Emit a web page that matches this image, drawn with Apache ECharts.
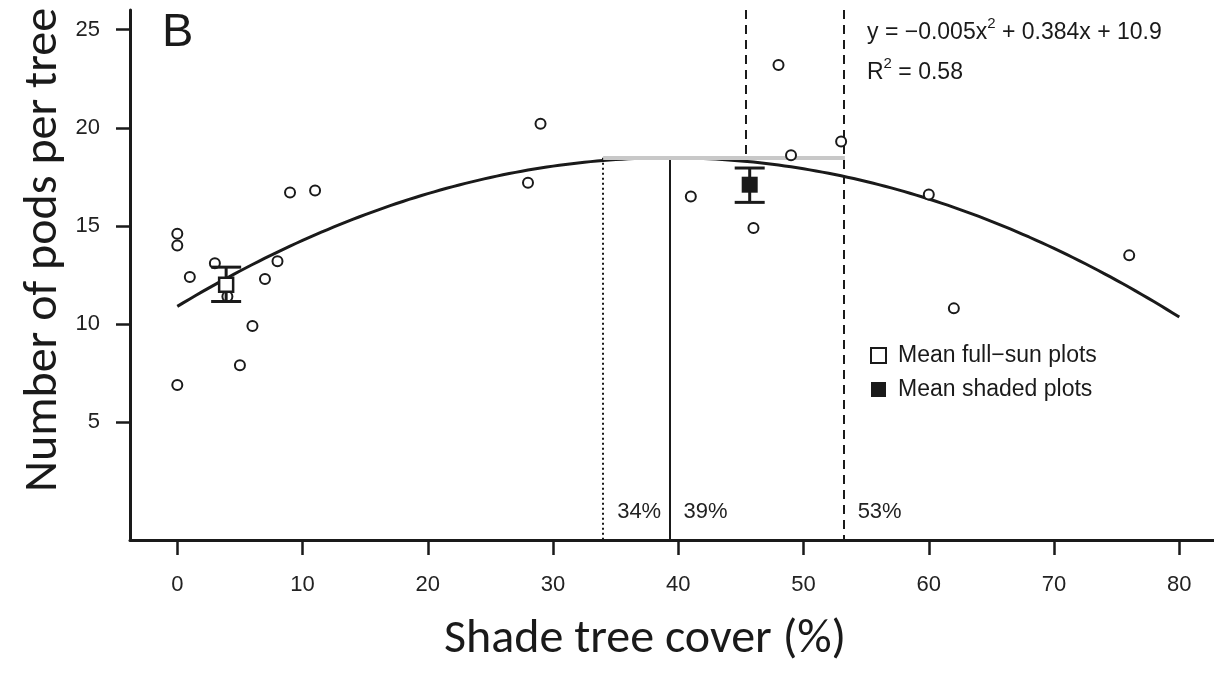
<!DOCTYPE html>
<html>
<head>
<meta charset="utf-8">
<title>Pods per tree vs shade tree cover</title>
<script src="https://cdn.jsdelivr.net/npm/echarts@6/dist/echarts.min.js"></script>
<style>
  html, body { margin: 0; padding: 0; background: #ffffff; }
  #chart { width: 1214px; height: 676px; }
</style>
</head>
<body>
<div id="chart"></div>
<script>
// One entry per plot: shade tree cover (%) and number of pods per tree
const shadeCover  = [0, 0, 0, 1, 3, 4, 5, 6, 7, 8, 9, 11, 28, 29, 41, 46, 48, 49, 53, 60, 62, 76];
const podsPerTree = [14.6, 14.0, 6.9, 12.4, 13.1, 11.4, 7.9, 9.9, 12.3, 13.2, 16.7, 16.8,
                     17.2, 20.2, 16.5, 14.9, 23.2, 18.6, 19.3, 16.6, 10.8, 13.5];

// Group means with their error bars
const meanNames = ['Mean full\u2212sun plots', 'Mean shaded plots'];
const meanCover = [3.9, 45.7];
const meanPods  = [12.0, 17.1];
const meanLow   = [11.15, 16.2];
const meanHigh  = [12.9, 17.95];

// Quadratic fit: pods = a*cover^2 + b*cover + c
const fitA = -0.0049, fitB = 0.3852, fitC = 10.9;
const fitRange = [0, 80];
const equationText = ['y = \u22120.005x', '2', ' + 0.384x + 10.9'];
const r2Text = ['R', '2', ' = 0.58'];

// Shade cover thresholds (%)
const optimumLow  = 34;
const optimum     = 39.3;
const optimumHigh = 53.2;
const shadedMeanCover = 45.4;

// Axis ticks
const xTicks = [0, 10, 20, 30, 40, 50, 60, 70, 80];
const yTicks = [5, 10, 15, 20, 25];

const X_MIN = -3.776, X_MAX = 82.77;
const Y_MIN = -1, Y_MAX = 26;

const INK = '#1a1a1a';
const SANS = '"Liberation Sans", Arial, sans-serif';
const TITLE_FONT = 'Carlito, Calibri, Lato, sans-serif';

const points = shadeCover.map((x, i) => [x, podsPerTree[i]]);

// fitted curve sampled along the fit range
const fitCurve = [];
for (let x = fitRange[0]; x <= fitRange[1] + 1e-9; x += 0.5) {
  fitCurve.push([x, fitA * x * x + fitB * x + fitC]);
}
const fitPeak = fitC - (fitB * fitB) / (4 * fitA);

const dashed = { type: [9, 6], width: 2, color: INK };
const dotted = { type: [2, 3], width: 2, color: INK };
const solid  = { type: 'solid', width: 2, color: INK };

// main text plus raised exponent
const supRich = {
  t: { fontSize: 23, fontFamily: SANS, fill: INK, lineHeight: 33 },
  s: { fontSize: 15, fontFamily: SANS, fill: INK, lineHeight: 15, verticalAlign: 'top' }
};

const chart = echarts.init(document.getElementById('chart'), null, { renderer: 'canvas' });

chart.setOption({
  animation: false,
  backgroundColor: '#ffffff',
  grid: { left: 130, right: 0, top: 10, bottom: 136, outerBoundsMode: 'none' },
  xAxis: {
    type: 'value',
    min: X_MIN,
    max: X_MAX,
    axisLine: { show: true, onZero: false, lineStyle: { color: INK, width: 3 } },
    axisTick: { show: true, length: 15, customValues: xTicks, lineStyle: { color: INK, width: 2.5 } },
    axisLabel: { customValues: xTicks, margin: 34, fontSize: 22, fontFamily: SANS, color: '#222' },
    splitLine: { show: false }
  },
  yAxis: {
    type: 'value',
    min: Y_MIN,
    max: Y_MAX,
    axisLine: { show: true, onZero: false, lineStyle: { color: INK, width: 3 } },
    axisTick: { show: true, length: 14, customValues: yTicks, lineStyle: { color: INK, width: 2.5 } },
    axisLabel: { customValues: yTicks, margin: 30, fontSize: 22, fontFamily: SANS, color: '#222' },
    splitLine: { show: false }
  },
  legend: {
    orient: 'vertical',
    left: 865,
    top: 339,
    itemWidth: 15,
    itemHeight: 15,
    itemGap: 11,
    selectedMode: false,
    textStyle: { fontSize: 23, fontFamily: SANS, color: INK, padding: [0, 0, 0, 7] },
    data: [
      { name: meanNames[0], icon: 'rect', itemStyle: { color: '#ffffff', borderColor: INK, borderWidth: 2, opacity: 1 } },
      { name: meanNames[1], icon: 'rect', itemStyle: { color: INK, borderWidth: 0, opacity: 1 } }
    ]
  },
  graphic: [
    { type: 'text', left: 162, top: 10, silent: true,
      style: { text: 'B', fontSize: 47, fontFamily: SANS, fill: INK } },
    { type: 'text', left: 867, top: 16, silent: true,
      style: {
        text: '{t|' + equationText[0] + '}{s|' + equationText[1] + '}{t|' + equationText[2] + '}',
        rich: supRich
      } },
    { type: 'text', left: 867, top: 56, silent: true,
      style: {
        text: '{t|' + r2Text[0] + '}{s|' + r2Text[1] + '}{t|' + r2Text[2] + '}',
        rich: supRich
      } },
    { type: 'text', x: 645, y: 640, silent: true,
      style: { text: 'Shade tree cover (%)', fontSize: 48, fontFamily: TITLE_FONT, fill: INK,
               align: 'center', verticalAlign: 'middle' } },
    { type: 'text', x: 44, y: 250, rotation: Math.PI / 2, silent: true,
      style: { text: 'Number of pods per tree', fontSize: 48, fontFamily: TITLE_FONT, fill: INK,
               align: 'center', verticalAlign: 'middle' } }
  ],
  series: [
    {
      // threshold lines and the plateau band
      name: 'thresholds',
      type: 'line',
      data: [],
      z: 1,
      silent: true,
      markLine: {
        silent: true,
        symbol: 'none',
        label: { show: false },
        animation: false,
        data: [
          [{ coord: [optimumLow, fitPeak], lineStyle: dotted }, { coord: [optimumLow, Y_MIN] }],
          [{ coord: [optimum, fitPeak], lineStyle: solid }, { coord: [optimum, Y_MIN] }],
          [{ coord: [optimumHigh, Y_MAX], lineStyle: dashed }, { coord: [optimumHigh, Y_MIN] }],
          [{ coord: [shadedMeanCover, Y_MAX], lineStyle: dashed }, { coord: [shadedMeanCover, fitPeak] }],
          [{ coord: [optimumLow, fitPeak], lineStyle: { type: 'solid', width: 4, color: '#c8c8c8' } },
           { coord: [optimumHigh + 0.1, fitPeak] }]
        ]
      }
    },
    {
      name: 'fit',
      type: 'line',
      data: fitCurve,
      showSymbol: false,
      smooth: false,
      z: 3,
      silent: true,
      lineStyle: { color: INK, width: 3 }
    },
    {
      // percentage labels beside the threshold lines
      name: 'thresholdLabels',
      type: 'scatter',
      data: [optimumLow, optimum, optimumHigh].map(v => [v, 0.45]),
      symbolSize: 0,
      silent: true,
      z: 4,
      itemStyle: { opacity: 1 },
      label: {
        show: true,
        position: 'right',
        distance: 14,
        fontSize: 22,
        fontFamily: SANS,
        color: '#222',
        formatter: p => Math.round(p.value[0]) + '%'
      }
    },
    {
      name: 'plots',
      type: 'scatter',
      data: points,
      symbol: 'circle',
      symbolSize: 10,
      z: 5,
      itemStyle: { color: '#ffffff', borderColor: INK, borderWidth: 2, opacity: 1 }
    },
    {
      name: 'errorBars',
      type: 'custom',
      z: 6,
      silent: true,
      data: meanCover.map((x, i) => [x, meanLow[i], meanHigh[i]]),
      renderItem: (params, api) => {
        const x = api.value(0);
        const lo = api.coord([x, api.value(1)]);
        const hi = api.coord([x, api.value(2)]);
        const hw = 15;
        const st = { stroke: INK, lineWidth: 3 };
        return {
          type: 'group',
          children: [
            { type: 'line', shape: { x1: lo[0], y1: lo[1], x2: hi[0], y2: hi[1] }, style: st },
            { type: 'line', shape: { x1: lo[0] - hw, y1: lo[1], x2: lo[0] + hw, y2: lo[1] }, style: st },
            { type: 'line', shape: { x1: hi[0] - hw, y1: hi[1], x2: hi[0] + hw, y2: hi[1] }, style: st }
          ]
        };
      }
    },
    {
      name: meanNames[0],
      type: 'scatter',
      data: [[meanCover[0], meanPods[0]]],
      symbol: 'rect',
      symbolSize: 14,
      z: 7,
      itemStyle: { color: '#ffffff', borderColor: INK, borderWidth: 2.5, opacity: 1 }
    },
    {
      name: meanNames[1],
      type: 'scatter',
      data: [[meanCover[1], meanPods[1]]],
      symbol: 'rect',
      symbolSize: 16,
      z: 7,
      itemStyle: { color: INK, opacity: 1 }
    }
  ]
});
</script>
</body>
</html>
